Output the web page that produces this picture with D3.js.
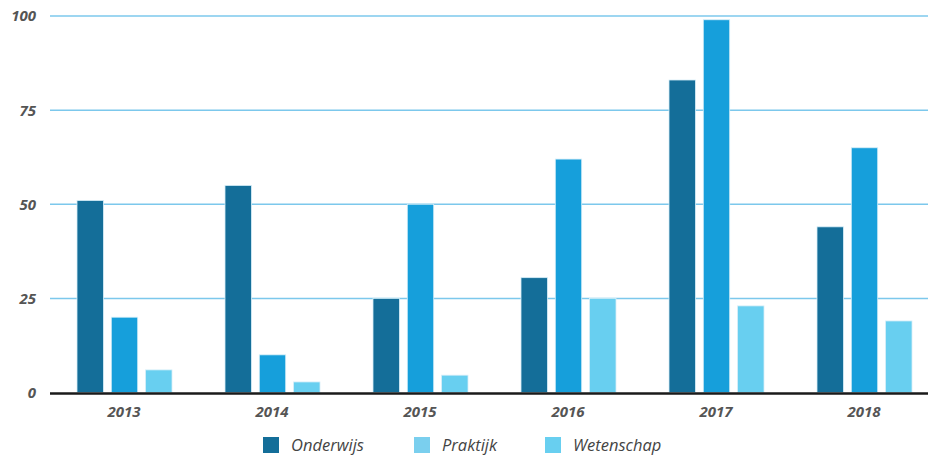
<!DOCTYPE html>
<html>
<head>
<meta charset="utf-8">
<script src="https://cdn.jsdelivr.net/npm/d3@7"></script>
<style>
  html, body { margin: 0; padding: 0; background: #fff; }
  svg { display: block; }
</style>
</head>
<body>
<svg id="chart" width="928" height="458"></svg>
<script>
const years = ["2013", "2014", "2015", "2016", "2017", "2018"];
const series = ["Onderwijs", "Praktijk", "Wetenschap"];
const onderwijs = [51, 55, 25, 30.5, 83, 44];
const praktijk = [20, 10, 50, 62, 99, 65];
const wetenschap = [6, 2.8, 4.6, 25, 23, 19];
const yTicks = [0, 25, 50, 75, 100];

const barColors = { Onderwijs: "#146e99", Praktijk: "#169fdb", Wetenschap: "#68cff0" };
const legendColors = { Onderwijs: "#146e99", Praktijk: "#7acfee", Wetenschap: "#68cff0" };

const valuesBySeries = { Onderwijs: onderwijs, Praktijk: praktijk, Wetenschap: wetenschap };
const data = years.map((yr, i) => ({ year: yr, values: series.map(s => ({ key: s, value: valuesBySeries[s][i] })) }));

const svg = d3.select("#chart");
const plotLeft = 50, plotRight = 938, plotTop = 16, plotBottom = 392.5;

const x0 = d3.scaleBand().domain(years).range([plotLeft, plotRight]).paddingInner(0).paddingOuter(0);
const x1 = d3.scaleBand().domain(series).range([0, 95]).paddingInner(0.23).paddingOuter(0);
const y = d3.scaleLinear().domain([0, 100]).range([plotBottom, plotTop]);

// gridlines
svg.append("g").selectAll("line").data(yTicks.filter(d => d > 0)).join("line")
  .attr("x1", plotLeft).attr("x2", 928)
  .attr("y1", d => y(d)).attr("y2", d => y(d))
  .attr("stroke", "#7cc8ec").attr("stroke-width", 1.5);

// y labels
svg.append("g").selectAll("text").data(yTicks).join("text")
  .attr("x", 36).attr("y", d => y(d))
  .attr("dy", "0.36em")
  .attr("text-anchor", "end")
  .attr("font-family", "'Open Sans', sans-serif")
  .attr("font-style", "italic").attr("font-weight", 700)
  .attr("font-size", 15).attr("fill", "#555")
  .text(d => d);

// bars
const groups = svg.append("g").selectAll("g").data(data).join("g")
  .attr("transform", d => `translate(${x0(d.year) + x0.bandwidth() / 2 - 47},0)`);
groups.selectAll("rect").data(d => d.values).join("rect")
  .attr("x", d => x1(d.key))
  .attr("width", x1.bandwidth())
  .attr("y", d => y(d.value))
  .attr("height", d => y(0) - y(d.value))
  .attr("fill", d => barColors[d.key])
  .attr("stroke", "#d6eef8").attr("stroke-width", 0.8);

// baseline
svg.append("line")
  .attr("x1", plotLeft).attr("x2", 928)
  .attr("y1", y(0) + 1).attr("y2", y(0) + 1)
  .attr("stroke", "#1a1a1a").attr("stroke-width", 2.5);

// x labels
svg.append("g").selectAll("text").data(years).join("text")
  .attr("x", d => x0(d) + x0.bandwidth() / 2)
  .attr("y", 417)
  .attr("text-anchor", "middle")
  .attr("font-family", "'Open Sans', sans-serif")
  .attr("font-style", "italic").attr("font-weight", 700)
  .attr("font-size", 15).attr("fill", "#555")
  .text(d => d);

// legend
const legendX = [263, 414, 545];
const lg = svg.append("g").selectAll("g").data(series).join("g")
  .attr("transform", (d, i) => `translate(${legendX[i]},437)`);
lg.append("rect").attr("width", 16).attr("height", 16).attr("fill", d => legendColors[d]);
lg.append("text")
  .attr("x", 28).attr("y", 8).attr("dy", "0.36em")
  .attr("font-family", "'Open Sans', sans-serif")
  .attr("font-style", "italic").attr("font-weight", 400)
  .attr("font-size", 16.5).attr("fill", "#444")
  .text(d => d);
</script>
</body>
</html>
